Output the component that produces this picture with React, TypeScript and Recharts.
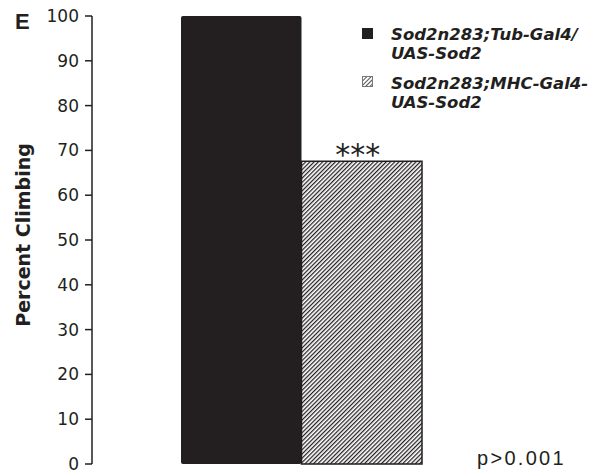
import { BarChart, Bar, XAxis, YAxis, LabelList } from 'recharts'

const categories = ['E']
const tubValues = [100]
const mhcValues = [67.6]
const yTicks = [0, 10, 20, 30, 40, 50, 60, 70, 80, 90, 100]
const seriesNames = [
  ['Sod2n283;Tub-Gal4/', 'UAS-Sod2'],
  ['Sod2n283;MHC-Gal4-', 'UAS-Sod2'],
]

const data = categories.map((name, i) => ({ name, tub: tubValues[i], mhc: mhcValues[i] }))

const ink = '#231f20'

function LegendBox() {
  return (
    <g transform="translate(355,20)">
      <rect x={7} y={8} width={11} height={11} fill={ink} />
      <rect x={7.5} y={56.5} width={10} height={10} fill="url(#hatchSmall)" stroke="#777" strokeWidth={1} />
      {seriesNames.map((lines, i) => (
        <text
          key={i}
          fontFamily="DejaVu Sans"
          fontWeight="bold"
          fontStyle="italic"
          fontSize={16.5}
          fill={ink}
        >
          <tspan x={36} y={20 + i * 49}>{lines[0]}</tspan>
          <tspan x={36} y={38.5 + i * 49}>{lines[1]}</tspan>
        </text>
      ))}
    </g>
  )
}

function Stars(props: any) {
  const { x, y, width } = props
  return (
    <text
      x={x + width / 2 - 4}
      y={y + 4}
      textAnchor="middle"
      fontFamily="DejaVu Sans"
      fontSize={30}
      fill={ink}
    >
      ***
    </text>
  )
}

export default function App() {
  return (
    <div style={{ position: 'absolute', left: 0, top: 0, background: '#fff' }}>
      <BarChart
        width={595}
        height={472}
        data={data}
        margin={{ top: 16, right: 0, bottom: 8, left: 0 }}
        barGap={0}
        barSize={120.5}
      >
        <defs>
          <pattern id="hatch" patternUnits="userSpaceOnUse" width={3} height={3} patternTransform="rotate(45)">
            <rect width={3} height={3} fill="#fff" />
            <line x1={0.6} y1={0} x2={0.6} y2={3} stroke={ink} strokeWidth={1.3} />
          </pattern>
          <pattern id="hatchSmall" patternUnits="userSpaceOnUse" width={3} height={3} patternTransform="rotate(45)">
            <rect width={3} height={3} fill="#fff" />
            <line x1={0.5} y1={0} x2={0.5} y2={3} stroke="#555" strokeWidth={1} />
          </pattern>
        </defs>
        <XAxis dataKey="name" hide padding={{ left: 0, right: 84 }} />
        <YAxis
          width={92}
          domain={[0, 100]}
          ticks={yTicks}
          interval={0}
          tickSize={7}
          tickMargin={6}
          axisLine={{ stroke: ink, strokeWidth: 1.5 }}
          tickLine={{ stroke: ink, strokeWidth: 1.5 }}
          tick={{ fill: ink, fontSize: 17, fontFamily: 'DejaVu Sans' }}
          label={{
            value: 'Percent Climbing',
            angle: -90,
            position: 'insideLeft',
            dx: 18,
            dy: -5,
            style: { textAnchor: 'middle', fontFamily: 'DejaVu Sans', fontWeight: 'bold', fontSize: 19, fill: ink },
          }}
        />
        <Bar dataKey="tub" fill={ink} radius={[2, 2, 2, 2]} isAnimationActive={false} />
        <Bar dataKey="mhc" fill="url(#hatch)" stroke={ink} strokeWidth={1.5} isAnimationActive={false}>
          <LabelList dataKey="mhc" content={Stars} />
        </Bar>
        <LegendBox />
        <text x={15} y={29} fontFamily="Liberation Sans" fontWeight="bold" fontSize={22} fill={ink}>
          E
        </text>
        <text x={477} y={465} fontFamily="Liberation Sans" fontSize={20} letterSpacing={2.3} fill={ink}>
          p&gt;0.001
        </text>
      </BarChart>
    </div>
  )
}
